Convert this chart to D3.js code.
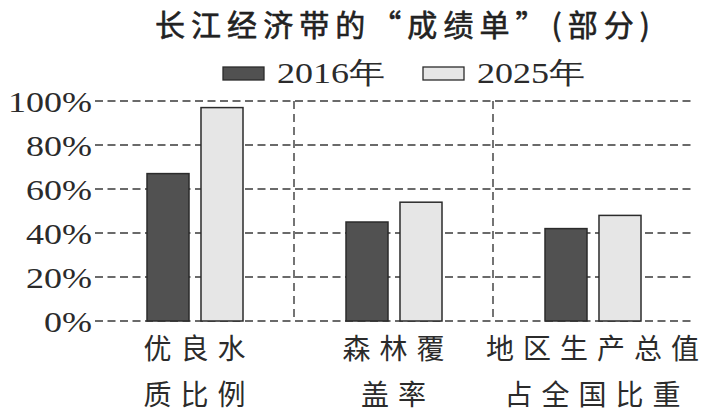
<!DOCTYPE html>
<html>
<head>
<meta charset="utf-8">
<script src="https://cdn.jsdelivr.net/npm/d3@7"></script>
<style>
  html, body { margin: 0; padding: 0; background: #fff; }
  svg { display: block; }
</style>
</head>
<body>
<svg width="707" height="414"></svg>
<script>
var categories = ['优良水质比例', '森林覆盖率', '地区生产总值占全国比重'];
var labelLines = [['优良水', '质比例'], ['森林覆', '盖率'], ['地区生产总值', '占全国比重']];
var seriesNames = ['2016年', '2025年'];
var values2016 = [67, 45, 42];
var values2025 = [97, 54, 48];
var yTicks = [0, 20, 40, 60, 80, 100];
var titleText = '长江经济带的“成绩单”(部分)';

var INK = '#2b2b2b';
var FILLS = ['#515151', '#e6e6e6'];
var SERIF = '"Liberation Serif", "Times New Roman", serif';
var CJK = '"Noto Sans CJK SC", sans-serif';
var WIDEN = 1.2; // the print uses a wider serif than Liberation

var svg = d3.select('svg');

var x = d3.scaleBand()
  .domain(categories)
  .range([95, 692])
  .padding(0);

var inner = d3.scaleBand()
  .domain(seriesNames)
  .range([52, 148])
  .paddingInner(0.222);

var y = d3.scaleLinear()
  .domain([0, 100])
  .range([321, 101]);

// horizontal dashed grid
svg.append('g')
  .selectAll('line')
  .data(yTicks)
  .join('line')
  .attr('x1', 95)
  .attr('x2', 692)
  .attr('y1', function (d) { return y(d); })
  .attr('y2', function (d) { return y(d); })
  .attr('stroke', '#3a3a3a')
  .attr('stroke-width', 1.6)
  .attr('stroke-dasharray', '8,4.5');

// vertical dividers between groups
svg.append('g')
  .selectAll('line')
  .data(categories.slice(1))
  .join('line')
  .attr('x1', function (d) { return x(d); })
  .attr('x2', function (d) { return x(d); })
  .attr('y1', y(100))
  .attr('y2', y(0))
  .attr('stroke', '#3a3a3a')
  .attr('stroke-width', 1.4)
  .attr('stroke-dasharray', '8,5');

// tick labels
svg.append('g')
  .selectAll('text')
  .data(yTicks)
  .join('text')
  .attr('transform', function (d) {
    return 'translate(92,' + (y(d) + 11) + ') scale(' + WIDEN + ',1)';
  })
  .attr('text-anchor', 'end')
  .attr('font-family', SERIF)
  .attr('font-size', 30)
  .attr('fill', INK)
  .text(function (d) { return d + '%'; });

// bars
var rows = categories.map(function (c, i) {
  return { cat: c, vals: [values2016[i], values2025[i]] };
});

var groups = svg.append('g')
  .selectAll('g')
  .data(rows)
  .join('g')
  .attr('transform', function (d) { return 'translate(' + x(d.cat) + ',0)'; });

groups.selectAll('rect')
  .data(function (d) {
    return d.vals.map(function (v, k) { return { name: seriesNames[k], v: v, k: k }; });
  })
  .join('rect')
  .attr('x', function (d) { return inner(d.name); })
  .attr('width', inner.bandwidth())
  .attr('y', function (d) { return y(d.v); })
  .attr('height', function (d) { return y(0) - y(d.v); })
  .attr('fill', function (d) { return FILLS[d.k]; })
  .attr('stroke', INK)
  .attr('stroke-width', 1.5);

// category labels, two lines each
var LABEL_PITCH = 37;
groups.each(function (d, i) {
  var g = d3.select(this);
  var cx = x.bandwidth() / 2;
  labelLines[i].forEach(function (line, j) {
    var w = line.length * LABEL_PITCH - 9;
    g.append('text')
      .attr('x', cx - w / 2)
      .attr('y', 359 + j * 46)
      .attr('font-family', CJK)
      .attr('font-size', 28)
      .attr('letter-spacing', 9)
      .attr('fill', INK)
      .text(line);
  });
});

// title
svg.append('text')
  .attr('x', 155)
  .attr('y', 36)
  .attr('textLength', 495)
  .attr('lengthAdjust', 'spacing')
  .attr('font-family', CJK)
  .attr('font-size', 30)
  .attr('font-weight', 400)
  .attr('stroke', '#222')
  .attr('stroke-width', 0.6)
  .attr('fill', '#222')
  .text(titleText);

// legend
var legendX = [223, 423];
var legend = svg.append('g')
  .selectAll('g')
  .data(seriesNames)
  .join('g')
  .attr('transform', function (d, i) { return 'translate(' + legendX[i] + ',0)'; });

legend.append('rect')
  .attr('x', 0)
  .attr('y', 67)
  .attr('width', 41)
  .attr('height', 13)
  .attr('fill', function (d, i) { return FILLS[i]; })
  .attr('stroke', INK)
  .attr('stroke-width', 1.3);

legend.append('text')
  .attr('transform', 'translate(54,83) scale(' + WIDEN + ',1)')
  .attr('font-family', SERIF)
  .attr('font-size', 30)
  .attr('fill', INK)
  .text(function (d) { return d; });
</script>
</body>
</html>
